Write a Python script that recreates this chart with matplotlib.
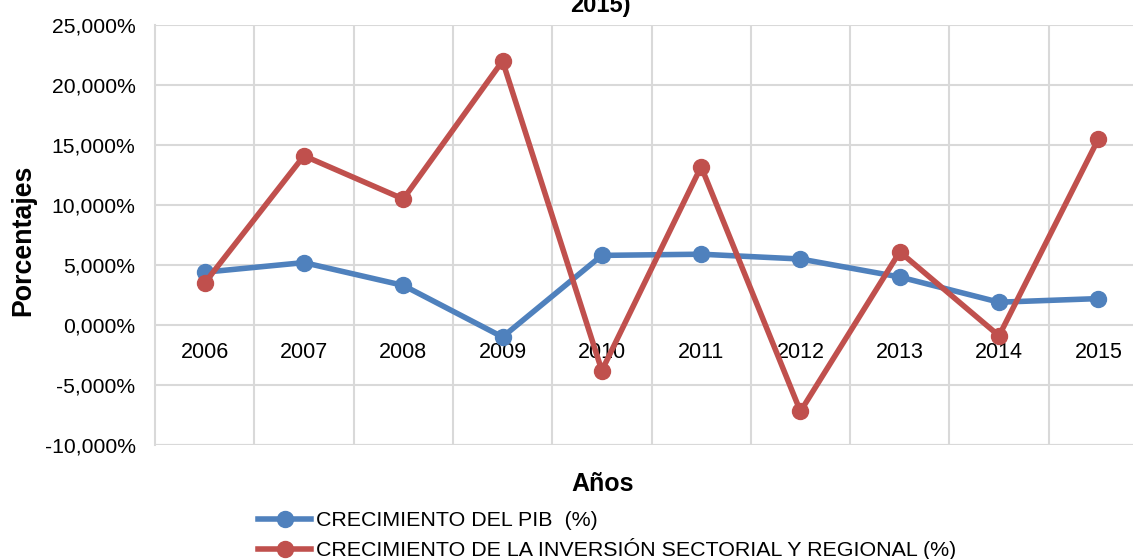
import matplotlib.pyplot as plt
from matplotlib.ticker import FuncFormatter, MultipleLocator

# data
years = ["2006", "2007", "2008", "2009", "2010", "2011", "2012", "2013", "2014", "2015"]
pib = [4.4, 5.2, 3.3, -1.0, 5.8, 5.9, 5.5, 4.0, 1.9, 2.2]
inversion = [3.5, 14.1, 10.5, 22.0, -3.8, 13.2, -7.2, 6.1, -0.9, 15.5]
label_pib = "CRECIMIENTO DEL PIB  (%)"
label_inv = "CRECIMIENTO DE LA INVERSIÓN SECTORIAL Y REGIONAL (%)"

plt.rcParams["font.family"] = ["Liberation Sans", "DejaVu Sans"]

blue = "#4F81BD"
red = "#C0504D"
grid_c = "#D9D9D9"

W, H = 1133, 559
fig = plt.figure(figsize=(W / 100, H / 100), dpi=100)
# plot area runs past the right edge (the original picture is cropped)
l, r, t, b = 155, 1148, 25, 445
ax = fig.add_axes([l / W, 1 - b / H, (r - l) / W, (b - t) / H])

x = list(range(len(years)))
ax.plot(x, pib, color=blue, lw=4, marker="o", ms=11.5, label=label_pib, zorder=3)
ax.plot(x, inversion, color=red, lw=4, marker="o", ms=11.5, label=label_inv, zorder=3)

ax.set_xlim(-0.5, len(years) - 0.5)
ax.set_ylim(-10, 25)
ax.yaxis.set_major_locator(MultipleLocator(5))
ax.yaxis.set_major_formatter(FuncFormatter(lambda v, p: f"{v:.3f}".replace(".", ",") + "%"))

ax.set_xticks(x)
ax.set_xticklabels(years)
ax.set_xticks([i + 0.5 for i in x[:-1]], minor=True)
ax.grid(axis="y", which="major", color=grid_c, lw=1.5)
ax.grid(axis="x", which="minor", color=grid_c, lw=1.5)
ax.set_axisbelow(True)

ax.spines["bottom"].set_position(("data", 0))
ax.spines["bottom"].set_visible(False)
ax.spines["top"].set_visible(False)
ax.spines["right"].set_visible(False)
ax.spines["left"].set_color(grid_c)
ax.spines["left"].set_linewidth(1.5)
ax.axhline(-10, color=grid_c, lw=1.5, zorder=1)

ax.tick_params(axis="x", which="both", length=0, labelsize=15.5, pad=12.5)
ax.tick_params(axis="y", length=0, labelsize=15.2, pad=14)

ax.set_xlabel("Años", fontsize=18, fontweight="bold")
ax.xaxis.set_label_coords(0.451, -0.065)
ax.set_ylabel("Porcentajes", fontsize=19.3, fontweight="bold")
ax.yaxis.set_label_coords(-0.12, 0.488)

fig.text(600 / W, 1 - 12 / H, "2015)", ha="center", va="baseline", fontsize=17, fontweight="bold")

fig.legend(loc="upper left", bbox_to_anchor=(258 / W, 1 - 511 / H), frameon=False,
           borderpad=0, borderaxespad=0,
           handlelength=2.5, handletextpad=0.23, labelspacing=0.38,
           prop={"size": 15.4})

fig.savefig("out.png", dpi=100)
